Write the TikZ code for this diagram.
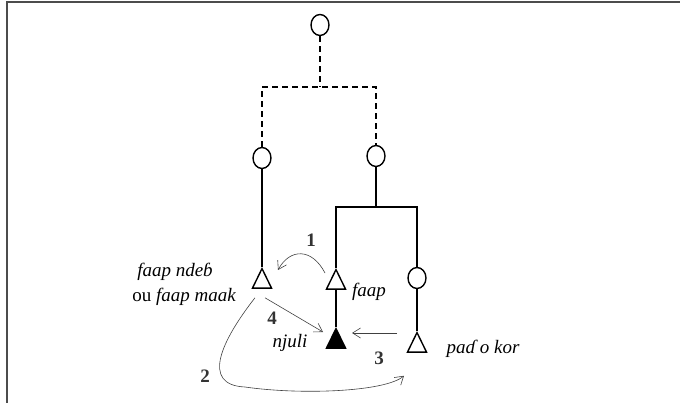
\documentclass[tikz,border=0pt]{standalone}
\usepackage{fontspec}
\setmainfont{Liberation Serif}
\usetikzlibrary{shapes.geometric,arrows.meta}

\tikzset{
  knot/.style={draw, ellipse, line width=1.4pt, minimum width=18pt, minimum height=21pt, inner sep=0pt},
  tri/.style={draw, isosceles triangle, isosceles triangle apex angle=52, shape border rotate=90,
    minimum width=19pt, minimum height=19pt, inner sep=0pt,
    line width=1.4pt, anchor=apex},
  branch/.style={line width=1.6pt},
  arw/.style={-{Straight Barb[length=8pt,width=10pt]}, line width=0.6pt, draw=black!75},
  lab/.style={font=\fontsize{19}{22}\selectfont\itshape},
  num/.style={font=\fontsize{19}{22}\selectfont\bfseries, text=black!80}
}

\begin{document}
\begin{tikzpicture}[x=1pt, y=-1pt]
                \useasboundingbox (0,0) rectangle (680,403);
                % frame
                \draw[line width=2pt, black!70] (680,2.5) -- (7,2.5) -- (7,403);

                % Knots
                \node[knot] (top) at (320, 25) {};
                \node[knot] (lc) at (262, 158) {};
                \node[knot] (rc) at (376, 156) {};
                \node[knot] (pc) at (417, 278) {};

                % Leaves
                \node[tri] (lt) at (262, 267) {};
                \node[tri] (ft) at (336, 268) {};
                \node[tri, fill=black] (nj) at (336, 327) {};
                \node[tri] (pk) at (417, 331) {};

                % Junctions
                \coordinate (jd) at (320, 87);
                \coordinate (jr) at (376, 207);

                % Branches
                \draw[branch, dashed, dash pattern=on 6pt off 4pt] (top.south) -- (jd);
                \draw[branch, dashed, dash pattern=on 6pt off 4pt] (lc.north) |- (rc.north |- jd) -- (rc.north);
                \draw[branch] (lc.south) -- (lt.apex);
                \draw[branch] (rc.south) -- (jr);
                \draw[branch] (ft.apex) |- (pc.north |- jr) -- (pc.north);
                \draw[branch] (ft.south) -- (nj.apex);
                \draw[branch] (pc.south) -- (pk.apex);

                % Labels
                \node[lab] (l1) at (175, 272) {faap ndeɓ};
                \node[lab] (l2) at (184, 297) {\upshape ou \itshape faap maak};
                \node[lab] (l3) at (369, 292) {faap};
                \node[lab] (l4) at (290, 343) {njuli};
                \node[lab] (l5) at (483, 349) {paɗ o kor};

                % Numbers
                \node[num] (n1) at (311, 240) {1};
                \node[num] (n2) at (205, 376) {2};
                \node[num] (n3) at (379, 358) {3};
                \node[num] (n4) at (272, 318) {4};

                % Moves
                \draw[arw] ([shift={(-11,5)}]ft.apex) .. controls (312, 248) and (290, 248) .. ([shift={(16,3)}]lt.apex);
                \draw[arw] ([shift={(-7,9)}]lt.south) .. controls (222, 340) and (200, 385) .. (245, 387)
                           .. controls (300, 395) and (385, 392) .. ([shift={(-13,23)}]pk.south);
                \draw[arw] ([shift={(-20,2)}]pk.apex) -- ([shift={(16,6)}]nj.apex);
                \draw[arw] ([shift={(3,9)}]lt.south) -- ([shift={(-13,5)}]nj.apex);
\end{tikzpicture}
\end{document}
